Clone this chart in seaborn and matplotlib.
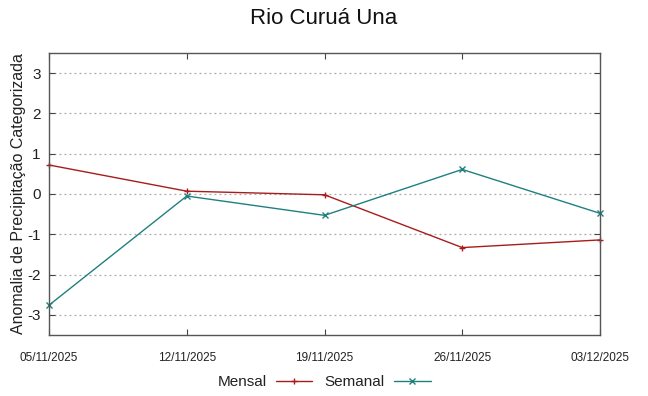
import matplotlib
matplotlib.use("Agg")
import matplotlib.pyplot as plt
import seaborn as sns
import pandas as pd
import numpy as np

dates = ["05/11/2025", "12/11/2025", "19/11/2025", "26/11/2025", "03/12/2025"]
mensal = [0.72, 0.07, -0.02, -1.33, -1.14]
semanal = [-2.76, -0.05, -0.53, 0.61, -0.48]
yticks = [-3, -2, -1, 0, 1, 2, 3]

sns.set_style("white")
plt.rcParams['font.family'] = ['Liberation Sans Narrow', 'Liberation Sans', 'DejaVu Sans']

df = pd.DataFrame({
    "pos": list(range(len(dates))) * 2,
    "valor": mensal + semanal,
    "serie": ["Mensal"] * len(dates) + ["Semanal"] * len(dates),
})

fig = plt.figure(figsize=(6.48, 3.96), dpi=100)
ax = fig.add_axes([49/648, 1-335/396, (600-49)/648, (335-53)/396])

colors = {"Mensal": "#a81c1c", "Semanal": "#1f8080"}
markers = {"Mensal": "+", "Semanal": "x"}
for name in ["Mensal", "Semanal"]:
    sub = df[df.serie == name]
    sns.lineplot(data=sub, x="pos", y="valor", ax=ax, color=colors[name],
                 marker=markers[name], markersize=5, markeredgewidth=1,
                 markeredgecolor=colors[name], markerfacecolor=colors[name],
                 linewidth=1, label=name, legend=False, clip_on=False)

ax.set_xlim(0, len(dates) - 1)
ax.set_ylim(-3.5, 3.5)
ax.set_xticks(range(len(dates)))
ax.set_xticklabels(dates, fontsize=8.5, color='#222222')
ax.set_yticks(yticks)
ax.set_yticklabels([str(v) for v in yticks], fontsize=11, color='#222222')
ax.tick_params(axis='both', direction='in', length=4, color='#444444',
               top=True, right=True, bottom=True, left=True)
ax.tick_params(axis='x', pad=12)
ax.tick_params(axis='y', pad=6)
ax.yaxis.grid(True, linestyle=(0, (1.5, 2.5)), color='#aaaaaa', linewidth=0.9)
ax.xaxis.grid(False)
for s in ax.spines.values():
    s.set_color('#555555')
    s.set_linewidth(1)
ax.set_xlabel("")
ax.set_ylabel("Anomalia de Precipitação Categorizada", fontsize=11.5, labelpad=1,
              color='#222222')

fig.text(0.5, 1-18/396, "Rio Curuá Una", ha='center', va='center', fontsize=16,
         color='#111111')

h, l = ax.get_legend_handles_labels()
fig.legend(h, l, loc='center', bbox_to_anchor=(0.5, 1-382/396), ncol=2,
           frameon=False, markerfirst=False, fontsize=11, handlelength=2.4,
           columnspacing=0.8, handletextpad=0.6, labelcolor='#222222')

fig.savefig("out.png", dpi=100)
